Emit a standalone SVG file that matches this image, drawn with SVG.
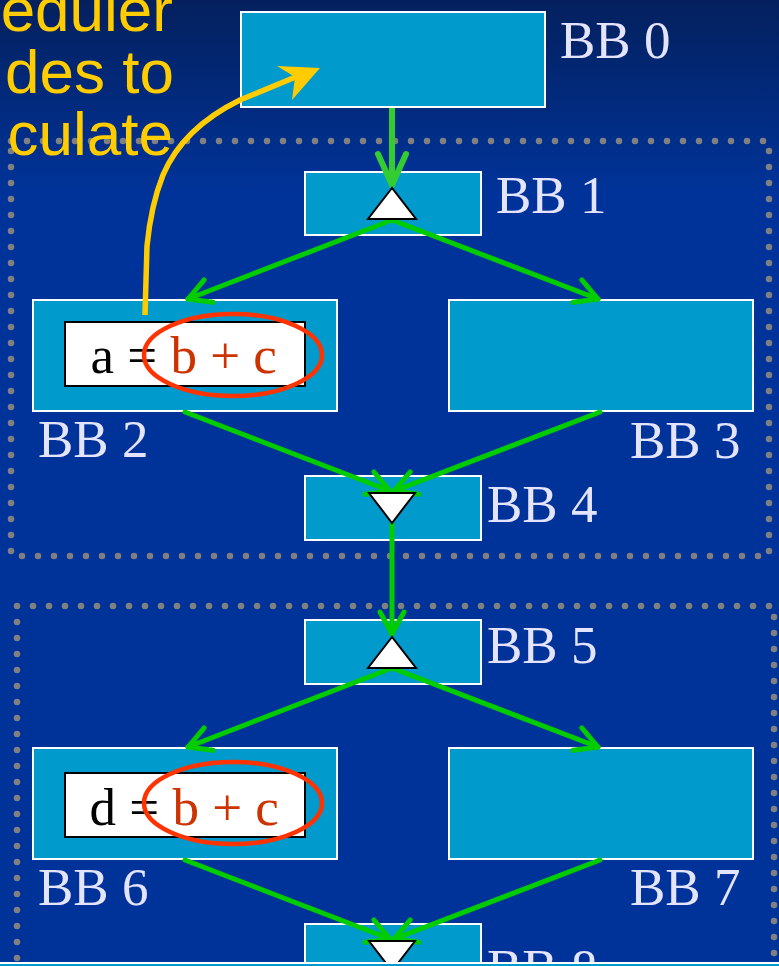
<svg xmlns="http://www.w3.org/2000/svg" width="779" height="966" viewBox="0 0 779 966">
<defs>
<linearGradient id="bg" x1="0" y1="0" x2="0" y2="966" gradientUnits="userSpaceOnUse">
<stop offset="0" stop-color="#04205e"/>
<stop offset="0.2" stop-color="#003399"/>
<stop offset="1" stop-color="#003399"/>
</linearGradient>
<marker id="ah" markerUnits="userSpaceOnUse" viewBox="-30 -16 34 32" refX="0" refY="0" markerWidth="34" markerHeight="32" orient="auto" overflow="visible">
<path d="M-22,-12 L0,0 L-22,12" fill="none" stroke="#00CC00" stroke-width="5" stroke-linecap="round" stroke-linejoin="round"/>
</marker>
<marker id="ah2" markerUnits="userSpaceOnUse" viewBox="-36 -18 40 36" refX="0" refY="0" markerWidth="40" markerHeight="36" orient="auto" overflow="visible">
<path d="M-31,-14 L0,0 L-31,14" fill="none" stroke="#33CC33" stroke-width="6" stroke-linecap="round" stroke-linejoin="round"/>
</marker>
</defs>
<style>
.box{fill:#009ACC;stroke:#ffffff;stroke-width:2}
.code{fill:#ffffff;stroke:#000000;stroke-width:2}
.lbl{font-family:"Liberation Serif","Times New Roman",serif;font-size:53px;fill:#E4E4FF}
.ct{font-family:"Liberation Serif","Times New Roman",serif;font-size:53px;fill:#000000}
.red{fill:#CC3300}
.tri{fill:#ffffff;stroke:#000000;stroke-width:2;stroke-linejoin:miter}
.dots{fill:none;stroke:#808080;stroke-width:6.5;stroke-dasharray:0 16;stroke-linecap:round}
.ell{fill:none;stroke:#FF3300;stroke-width:4.5}
.edge{fill:none;stroke:#00CC00;stroke-width:5;stroke-linecap:round;marker-end:url(#ah)}
.note{font-family:"Liberation Sans",Arial,sans-serif;font-size:62px;fill:#FFCC00}
</style>
<rect x="0" y="0" width="779" height="966" fill="url(#bg)"/>
<g id="regions">
<rect class="dots" x="11" y="141" width="758" height="415"/>
<path class="dots" d="M17,990 L17,606 L774,606 L774,990"/>
</g>
<g id="bb0">
<rect class="box" x="241" y="12" width="304" height="95"/>
<text class="lbl" x="560" y="58">BB 0</text>
</g>
<g id="bb1">
<rect class="box" x="305" y="172" width="176" height="63"/>
<text class="lbl" x="496" y="213">BB 1</text>
</g>
<g id="bb2">
<rect class="box" x="33" y="300" width="304" height="111"/>
<rect class="code" x="65" y="322" width="240" height="64"/>
<text class="ct" x="90.5" y="373">a = <tspan class="red">b + c</tspan></text>
<text class="lbl" x="38" y="457">BB 2</text>
</g>
<g id="bb3">
<rect class="box" x="449" y="300" width="304" height="111"/>
<text class="lbl" x="630" y="458">BB 3</text>
</g>
<g id="bb4">
<rect class="box" x="305" y="476" width="176" height="64"/>
<text class="lbl" x="487" y="522">BB 4</text>
</g>
<g id="bb5">
<rect class="box" x="305" y="620" width="176" height="64"/>
<text class="lbl" x="487" y="663">BB 5</text>
</g>
<g id="bb6">
<rect class="box" x="33" y="748" width="304" height="111"/>
<rect class="code" x="65" y="773" width="240" height="64"/>
<text class="ct" x="89.5" y="825">d = <tspan class="red">b + c</tspan></text>
<text class="lbl" x="38" y="905">BB 6</text>
</g>
<g id="bb7">
<rect class="box" x="449" y="748" width="304" height="111"/>
<text class="lbl" x="630" y="905">BB 7</text>
</g>
<g id="bb8">
<rect class="box" x="305" y="924" width="176" height="64"/>
<text class="lbl" x="487" y="986">BB 8</text>
</g>
<g id="connectors">
<line x1="392" y1="108" x2="392" y2="185" fill="none" stroke="#33CC33" stroke-width="6" marker-end="url(#ah2)"/>
<line class="edge" x1="392" y1="220" x2="188" y2="299"/>
<line class="edge" x1="392" y1="220" x2="598" y2="299"/>
<line class="edge" x1="185" y1="412" x2="390" y2="491"/>
<line class="edge" x1="600" y1="412" x2="394" y2="491"/>
<line class="edge" x1="392" y1="524" x2="392" y2="634"/>
<line class="edge" x1="392" y1="668" x2="188" y2="747"/>
<line class="edge" x1="392" y1="668" x2="598" y2="747"/>
<line class="edge" x1="185" y1="860" x2="390" y2="939"/>
<line class="edge" x1="600" y1="860" x2="394" y2="939"/>
</g>
<g id="joins">
<polygon class="tri" points="392,188 368,219 416,219"/>
<polygon class="tri" points="369,493 415,493 392,523"/>
<polygon class="tri" points="392,637 368,668 416,668"/>
<polygon class="tri" points="369,941 415,941 392,971"/>
</g>
<g id="highlights">
<ellipse class="ell" cx="233" cy="355" rx="89" ry="41"/>
<ellipse class="ell" cx="233" cy="803" rx="89" ry="41"/>
</g>
<g id="note">
<text class="note" text-anchor="end" x="173" y="31">eduler</text>
<text class="note" text-anchor="end" x="174" y="93">des to</text>
<text class="note" text-anchor="end" x="173" y="155">culate</text>
<path d="M145,315 L147,246 Q151,205 163,175 Q183,128 240,100 L298,76" fill="none" stroke="#FFCC00" stroke-width="5.5" stroke-linejoin="round"/>
<polygon points="320,68 277,66 295,77 292,100" fill="#FFCC00"/>
</g>
<rect x="0" y="962" width="779" height="2" fill="#ffffff"/>
<rect x="0" y="964" width="779" height="2" fill="#009ACC"/>
</svg>
